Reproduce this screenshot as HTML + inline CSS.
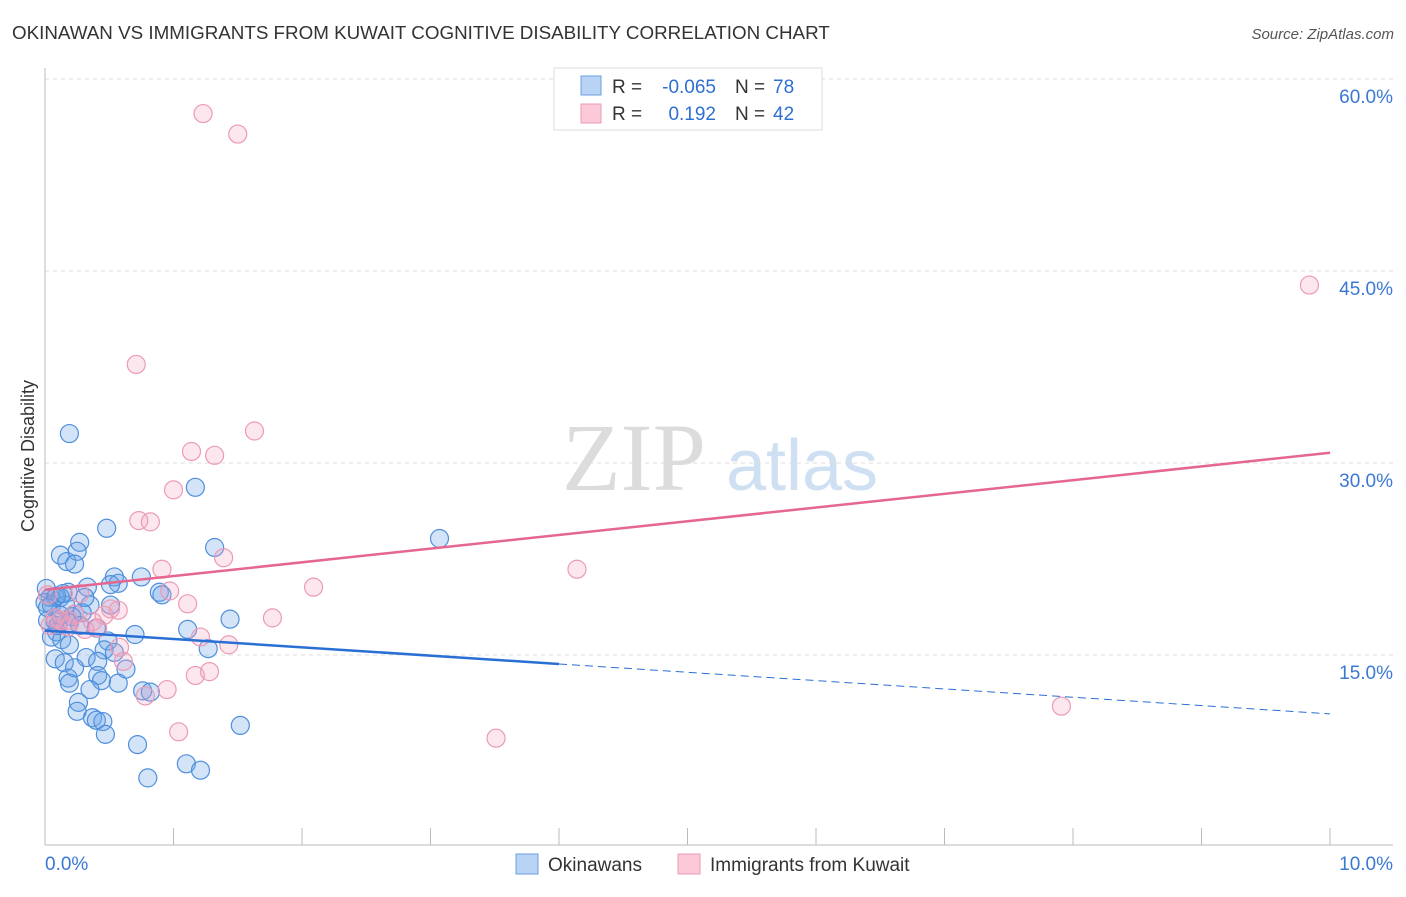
<!DOCTYPE html>
<html><head><meta charset="utf-8"><style>
body{margin:0;background:#fff;font-family:"Liberation Sans",sans-serif}
svg text{font-family:"Liberation Sans",sans-serif}
</style></head><body>
<svg id="c" width="1406" height="892" xmlns="http://www.w3.org/2000/svg">
<text x="12" y="39" font-size="18.8" fill="#333">OKINAWAN VS IMMIGRANTS FROM KUWAIT COGNITIVE DISABILITY CORRELATION CHART</text>
<text x="1394" y="39" font-size="15" fill="#555" font-style="italic" text-anchor="end">Source: ZipAtlas.com</text>
<text x="634" y="490" font-size="96" fill="#dcdcdc" text-anchor="middle" font-family="Liberation Serif" style="font-family:'Liberation Serif',serif">ZIP</text>
<text x="802" y="490" font-size="72" fill="#cfe0f3" text-anchor="middle">atlas</text>
<text transform="translate(34,456) rotate(-90)" font-size="18" fill="#333" text-anchor="middle">Cognitive Disability</text>
<g id="grid"></g><g id="axes"></g><g id="marks"></g><g id="trends"></g>
<g>
<rect x="554" y="68" width="268" height="62" fill="#fff" stroke="#ddd"/>
<rect x="581" y="76" width="20" height="19" fill="#b8d3f3" stroke="#6a9fe0"/>
<rect x="581" y="104" width="20" height="19" fill="#fbc9d8" stroke="#ec9ab5"/>
<text x="612" y="93" font-size="19" fill="#333">R =</text>
<text x="716" y="93" font-size="19" fill="#2f6fd0" text-anchor="end">-0.065</text>
<text x="735" y="93" font-size="19" fill="#333">N =</text>
<text x="773" y="93" font-size="19" fill="#2f6fd0">78</text>
<text x="612" y="120" font-size="19" fill="#333">R =</text>
<text x="716" y="120" font-size="19" fill="#2f6fd0" text-anchor="end">0.192</text>
<text x="735" y="120" font-size="19" fill="#333">N =</text>
<text x="773" y="120" font-size="19" fill="#2f6fd0">42</text>
</g>
<g>
<rect x="516" y="854" width="22" height="20" fill="#b8d3f3" stroke="#6a9fe0"/>
<text x="548" y="871" font-size="19" fill="#333">Okinawans</text>
<rect x="678" y="854" width="22" height="20" fill="#fbc9d8" stroke="#ec9ab5"/>
<text x="710" y="871" font-size="19" fill="#333">Immigrants from Kuwait</text>
</g>
</svg>
<script>
const blueX=[0.19,1.17,0.48,3.07,1.32,0.27,0.12,0.25,0.17,0.23,0.54,0.75,0.57,0.01,0.51,0.33,0.18,0.89,0.91,0.04,0.08,0.12,0.0,0.05,0.16,0.35,0.51,0.23,0.29,0.21,1.44,0.02,0.08,0.19,0.27,0.40,1.11,0.70,0.09,0.05,0.13,0.49,1.27,0.19,0.46,0.54,0.08,0.32,0.15,0.41,0.23,0.63,0.18,0.41,0.19,0.44,0.35,0.57,0.76,0.82,0.26,0.25,0.37,0.40,0.45,1.52,0.47,0.72,1.10,1.21,0.80,0.09,0.14,0.02,0.10,0.31,0.12];
const blueY=[32.3,28.1,24.9,24.1,23.4,23.8,22.8,23.1,22.3,22.1,21.1,21.1,20.6,20.2,20.5,20.3,19.9,19.9,19.7,19.5,19.5,19.5,19.1,18.9,18.9,18.9,18.9,18.2,18.3,18.0,17.8,17.7,17.6,17.5,17.3,17.1,17.0,16.6,16.8,16.4,16.2,16.1,15.5,15.8,15.4,15.2,14.7,14.8,14.4,14.5,14.0,13.9,13.2,13.4,12.8,13.0,12.3,12.8,12.2,12.1,11.3,10.6,10.1,9.9,9.8,9.5,8.8,8.0,6.5,6.0,5.4,19.6,19.8,18.7,17.3,19.5,18.1];
const pinkX=[1.23,1.50,9.84,0.71,1.63,1.14,1.32,1.00,0.73,0.82,4.14,0.91,1.39,2.09,0.97,0.02,0.27,1.11,0.51,0.57,0.46,0.12,0.37,0.04,0.18,0.31,0.41,1.77,1.21,1.43,0.58,0.61,1.28,1.17,0.95,0.78,1.04,3.51,7.91,0.23,0.18,0.08];
const pinkY=[57.3,55.7,43.9,37.7,32.5,30.9,30.6,27.9,25.5,25.4,21.7,21.7,22.6,20.3,20.0,19.7,19.8,19.0,18.6,18.5,18.1,17.7,17.6,17.3,17.2,17.0,17.1,17.9,16.4,15.8,15.6,14.5,13.7,13.4,12.3,11.8,9.0,8.5,11.0,18.2,17.7,17.9];
const yTicks=[15,30,45,60];
const xTickVals=[0,1,2,3,4,5,6,7,8,9,10];
const pinkTrend=[20.1,30.8];
const blueTrend=[16.9,10.4];
const blueSolidEnd=4.0;
const NS='http://www.w3.org/2000/svg';
const sx=v=>45+v*128.5, sy=v=>847-v*12.8;
function mk(tag,attrs,parent){const e=document.createElementNS(NS,tag);for(const k in attrs)e.setAttribute(k,attrs[k]);document.getElementById(parent).appendChild(e);return e;}
yTicks.forEach(t=>{
 const l=mk('line',{x1:45,x2:1393,y1:sy(t),y2:sy(t),stroke:'#ddd','stroke-dasharray':'4,4'},'grid');
 
 
 const tx=mk('text',{x:1393,y:sy(t)+24,'font-size':19,fill:'#3a78d4','text-anchor':'end'},'grid');
 tx.textContent=t.toFixed(1)+'%';
 
 
});
const ax=mk('line',{x1:45,x2:1393,y1:845,y2:845,stroke:'#bbb'},'axes');


const ay=mk('line',{x1:45,x2:45,y1:68,y2:845,stroke:'#bbb'},'axes');


xTickVals.forEach(v=>{const t=mk('line',{x1:sx(v),x2:sx(v),y1:828,y2:845,stroke:'#bbb'},'axes');
 
 });
[[0,'start','0.0%'],[10,'end','10.0%']].forEach(([v,a,s])=>{const t=mk('text',{x:sx(v)+(v?63:0),y:870,'font-size':19,fill:'#3a78d4','text-anchor':a},'axes');t.textContent=s;
 
 });
blueX.forEach((x,i)=>{const c=mk('circle',{cx:sx(x),cy:sy(blueY[i]),r:9,fill:'rgba(110,165,232,0.3)',stroke:'#4f8fdc','stroke-width':1.2},'marks');
 
 });
pinkX.forEach((x,i)=>{const c=mk('circle',{cx:sx(x),cy:sy(pinkY[i]),r:9,fill:'rgba(245,160,190,0.25)',stroke:'#ec9ab5','stroke-width':1.2},'marks');
 
 });
const pt=mk('line',{x1:sx(0),y1:sy(pinkTrend[0]),x2:sx(10),y2:sy(pinkTrend[1]),stroke:'#e5668f','stroke-width':2.5},'trends');


const bAt=v=>blueTrend[0]+(blueTrend[1]-blueTrend[0])*v/10;
const bt=mk('line',{x1:sx(0),y1:sy(blueTrend[0]),x2:sx(blueSolidEnd),y2:sy(bAt(blueSolidEnd)),stroke:'#2a6fd4','stroke-width':2.5},'trends');


const bd=mk('line',{x1:sx(blueSolidEnd),y1:sy(bAt(blueSolidEnd)),x2:sx(10),y2:sy(blueTrend[1]),stroke:'#2a6fd4','stroke-width':1,'stroke-dasharray':'8,5'},'trends');


</script>
</body></html>
